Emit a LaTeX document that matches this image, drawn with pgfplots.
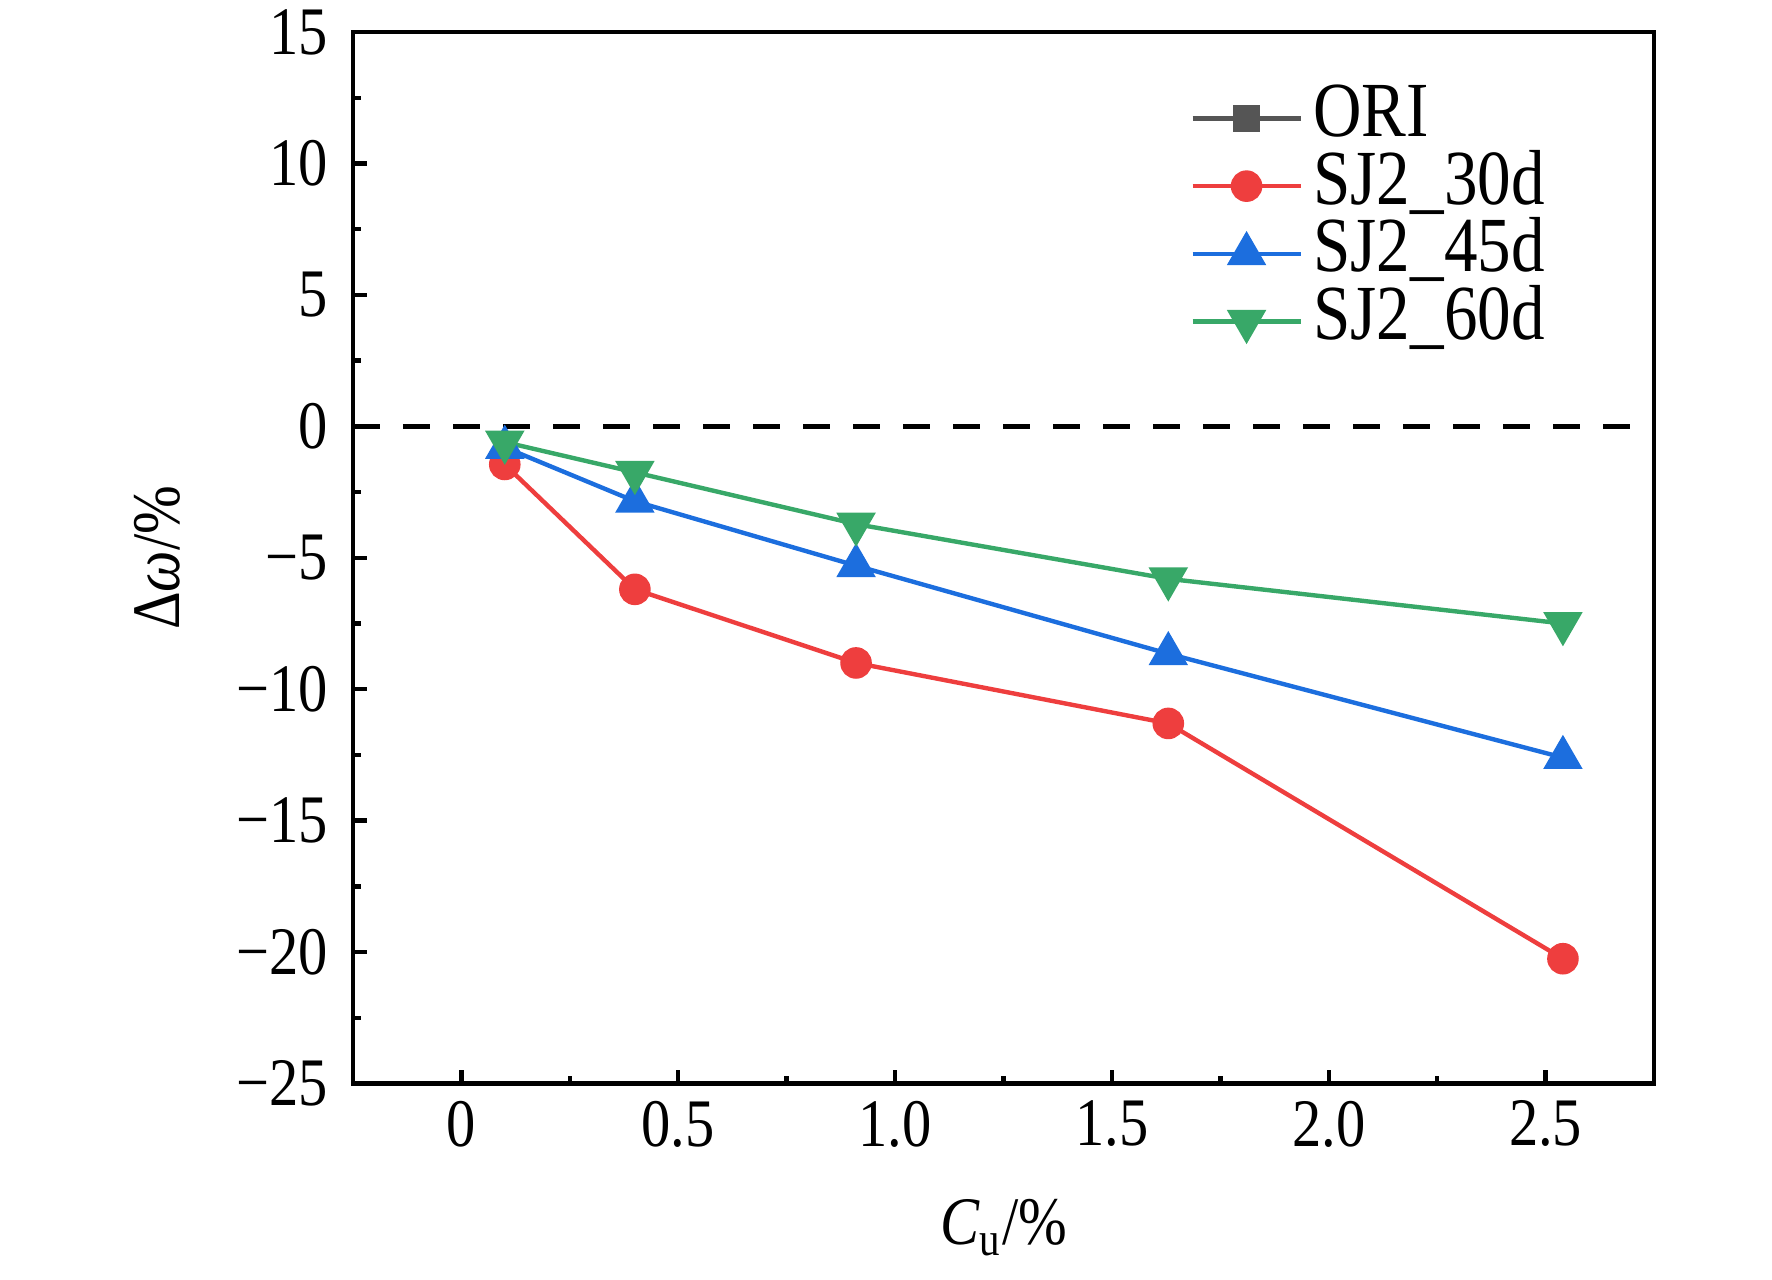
\documentclass[border=0pt]{standalone}
\usepackage{pgfplots}
\pgfplotsset{compat=1.18}
\usepackage{fontspec}
\setmainfont{Liberation Serif}[FakeStretch=0.86]
\definecolor{cred}{RGB}{238,62,62}
\definecolor{cblue}{RGB}{28,110,222}
\definecolor{cgreen}{RGB}{56,168,104}
\definecolor{cgray}{RGB}{85,85,85}
\begin{document}
\begin{tikzpicture}
\begin{axis}[
  at={(0,0)}, anchor=south west,
  width=325.25pt, height=262.9pt, scale only axis,
  xmin=-0.25, xmax=2.75, ymin=-25, ymax=15,
  axis line style={line width=1.2pt},
  xtick pos=bottom, ytick pos=left,
  tick style={black, line width=1.1pt},
  tick align=inside,
  major tick length=3.5pt, minor tick length=2pt,
  xtick={0,0.5,1,1.5,2,2.5},
  xticklabels={0,0.5,1.0,1.5,2.0,2.5},
  minor xtick={0.25,0.75,1.25,1.75,2.25},
  ytick={-25,-20,-15,-10,-5,0,5,10,15},
  yticklabels={−25,−20,−15,−10,−5,0,5,10,15},
  minor ytick={-22.5,-17.5,-12.5,-7.5,-2.5,2.5,7.5,12.5},
  ticklabel style={font=\fontsize{17}{20}\selectfont},
  xticklabel style={yshift=-0.8pt},
  yticklabel style={xshift=-2.8pt},
  label style={font=\fontsize{17}{20}\selectfont},
  xlabel={\textit{C}\textsubscript{u}/\%},
  ylabel={Δ\textit{ω}/\%},
  xlabel style={at={(axis description cs:0.5,-0.137)}, anchor=center},
  ylabel style={at={(axis description cs:-0.1507,0.5)}, anchor=center},
  legend cell align=left,
  legend style={draw=none, fill=none, inner sep=0pt, font=\fontsize{19.5}{22}\selectfont,
    at={(axis description cs:0.643,0.9506)}, anchor=north west,
    nodes={text height=13pt, text depth=3.9pt, inner ysep=0pt},
    row sep=0pt, /tikz/every odd column/.append style={column sep=0.7pt}},
  legend image code/.code={\draw[mark repeat=2,mark phase=2] plot coordinates {(0pt,0pt)(13.5pt,0pt)(27pt,0pt)};},
]
\addlegendimage{cgray, line width=1.1pt, mark=square*, mark size=2.9pt, mark options={solid}}
\addlegendentry{ORI}
\addplot[black, line width=1.1pt, dash pattern=on 6.7pt off 5.8pt, forget plot] coordinates {(-0.25,0) (2.73,0)};
\addplot[cred, line width=1.1pt, mark=*, mark size=3.4pt] coordinates {
  (0.10,-1.45) (0.40,-6.20) (0.91,-9.00) (1.63,-11.30) (2.54,-20.25)};
\addlegendentry{SJ2\_30d}
\addplot[cblue, line width=1.1pt, mark=triangle*, mark size=4.6pt] coordinates {
  (0.10,-0.80) (0.40,-2.85) (0.91,-5.30) (1.63,-8.65) (2.54,-12.60)};
\addlegendentry{SJ2\_45d}
\addplot[cgreen, line width=1.1pt, mark=triangle*, mark size=4.6pt, mark options={rotate=180}] coordinates {
  (0.10,-0.60) (0.40,-1.75) (0.91,-3.72) (1.63,-5.80) (2.54,-7.50)};
\addlegendentry{SJ2\_60d}
\end{axis}
\pgfresetboundingbox
\path[use as bounding box] (-88.25pt,-49.1pt) rectangle (354.75pt,270.9pt);
\end{tikzpicture}
\end{document}
